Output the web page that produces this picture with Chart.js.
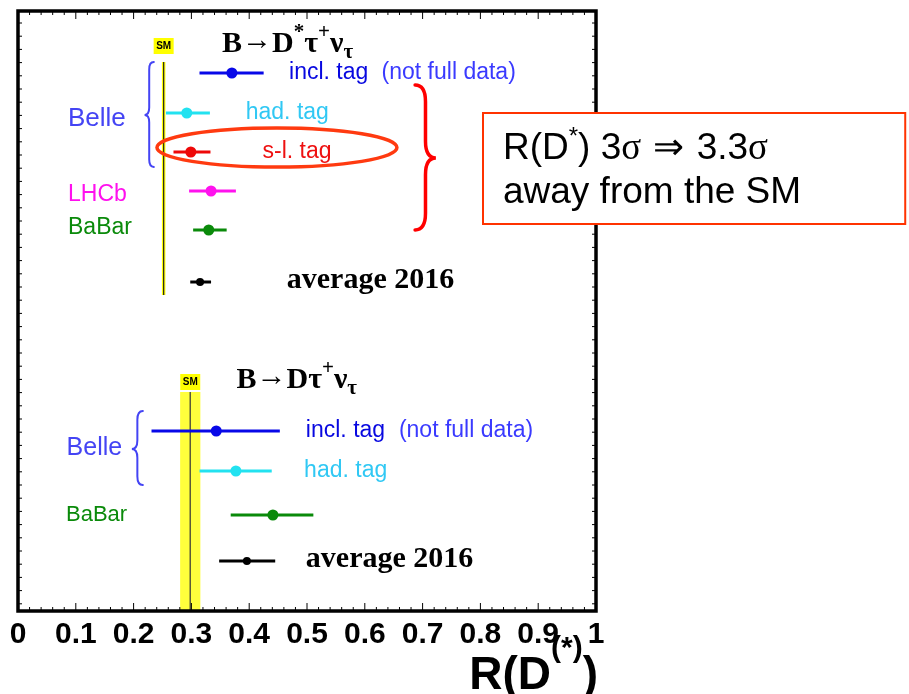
<!DOCTYPE html>
<html>
<head>
<meta charset="utf-8">
<script src="https://cdn.jsdelivr.net/npm/chart.js@4"></script>
<style>
  html, body { margin: 0; padding: 0; background: #fff; }
  #wrap { width: 909px; height: 694px; }
</style>
</head>
<body>
<div id="wrap"><canvas id="chart" width="909" height="694"></canvas></div>
<script>
// B -> D* tau nu (upper block)
const dstarNames = ["incl. tag", "had. tag", "s-l. tag", "LHCb", "BaBar", "average 2016"];
const dstarValues = [0.370, 0.292, 0.299, 0.334, 0.330, 0.315];
const dstarLow = [0.314, 0.256, 0.269, 0.296, 0.303, 0.298];
const dstarHigh = [0.425, 0.332, 0.333, 0.377, 0.361, 0.334];
const dstarRows = [3.1, 5.1, 7.05, 9.0, 10.95, 13.55];
const dstarColors = ["#0808e8", "#22e2f0", "#ee0808", "#ff12ee", "#0a8a0a", "#000000"];

// B -> D tau nu (lower block)
const dNames = ["incl. tag", "had. tag", "BaBar", "average 2016"];
const dValues = [0.343, 0.377, 0.441, 0.396];
const dLow = [0.231, 0.314, 0.368, 0.348];
const dHigh = [0.453, 0.439, 0.511, 0.445];
const dRows = [21.0, 23.0, 25.2, 27.5];
const dColors = ["#0808e8", "#22e2f0", "#0a8a0a", "#000000"];

// Standard Model predictions
const smDstar = 0.252, smDstarErr = 0.003;
const smD = 0.298, smDErr = 0.0175;

const xTickLabels = ["0", "0.1", "0.2", "0.3", "0.4", "0.5", "0.6", "0.7", "0.8", "0.9", "1"];

const SANS = "'Liberation Sans', Arial, Helvetica, sans-serif";
const SERIF = "'Liberation Serif', 'Times New Roman', serif";

function makeSets(names, vals, lo, hi, rows, cols) {
  return vals.map((v, i) => ({
    label: names[i],
    data: [{ x: v, y: rows[i] }],
    backgroundColor: cols[i],
    borderColor: cols[i],
    pointRadius: names[i] == "average 2016" ? 4 : 5.5,
    pointBorderWidth: 0,
    errLow: lo[i],
    errHigh: hi[i]
  }));
}

const datasets = makeSets(dstarNames, dstarValues, dstarLow, dstarHigh, dstarRows, dstarColors)
  .concat(makeSets(dNames, dValues, dLow, dHigh, dRows, dColors));

// draw a row of text pieces (sub/superscripts)
function textRun(ctx, x, y, parts) {
  let cx = x;
  for (const p of parts) {
    ctx.font = p.font;
    ctx.fillStyle = p.color || "#000";
    ctx.fillText(p.t, cx, y + (p.dy || 0));
    cx += ctx.measureText(p.t).width + (p.gap || 0);
  }
  return cx - x;
}

function runWidth(ctx, parts) {
  let w = 0;
  for (const p of parts) { ctx.font = p.font; w += ctx.measureText(p.t).width + (p.gap || 0); }
  return w;
}

// curly brace, ends at x0, point at xt
function brace(ctx, x0, xt, yTop, yTip, yBot, color, lw) {
  const xs = (x0 + xt) / 2;
  const r = Math.abs(x0 - xs) * 1.6;
  ctx.save();
  ctx.strokeStyle = color; ctx.lineWidth = lw; ctx.lineCap = "round";
  ctx.beginPath();
  ctx.moveTo(x0, yTop);
  ctx.quadraticCurveTo(xs, yTop, xs, yTop + r);
  ctx.lineTo(xs, yTip - r);
  ctx.quadraticCurveTo(xs, yTip, xt, yTip);
  ctx.quadraticCurveTo(xs, yTip, xs, yTip + r);
  ctx.lineTo(xs, yBot - r);
  ctx.quadraticCurveTo(xs, yBot, x0, yBot);
  ctx.stroke();
  ctx.restore();
}

const rootPlot = {
  id: "rootPlot",
  beforeDatasetsDraw(chart) {
    const ctx = chart.ctx, xs = chart.scales.x, ys = chart.scales.y;
    const X = v => xs.getPixelForValue(v), Y = v => ys.getPixelForValue(v);
    ctx.save();
    // SM for D*: thin yellow band with line
    ctx.fillStyle = "#ffff00";
    ctx.fillRect(X(smDstar - smDstarErr), Y(2.55), X(smDstar + smDstarErr) - X(smDstar - smDstarErr), Y(14.2) - Y(2.55));
    ctx.strokeStyle = "#222"; ctx.lineWidth = 1.2;
    ctx.beginPath(); ctx.moveTo(X(smDstar), Y(2.55)); ctx.lineTo(X(smDstar), Y(14.2)); ctx.stroke();
    // SM for D: wide band
    ctx.fillStyle = "#ffff3c";
    ctx.fillRect(X(smD - smDErr), Y(19.05), X(smD + smDErr) - X(smD - smDErr), Y(30) - Y(19.05));
    ctx.strokeStyle = "#5a5a3a"; ctx.lineWidth = 1.5;
    ctx.beginPath(); ctx.moveTo(X(smD), Y(19.05)); ctx.lineTo(X(smD), Y(30)); ctx.stroke();
    // SM labels
    const smBox = (v, r0, r1) => {
      ctx.fillStyle = "#ffff00";
      ctx.fillRect(X(v) - 10, Y(r0), 20, Y(r1) - Y(r0));
      ctx.fillStyle = "#000"; ctx.font = "bold 10px " + SANS;
      ctx.textAlign = "center"; ctx.textBaseline = "middle";
      ctx.fillText("SM", X(v), (Y(r0) + Y(r1)) / 2 + 0.5);
    };
    smBox(smDstar, 1.35, 2.15);
    smBox(smD, 18.15, 18.95);
    // error bars
    chart.data.datasets.forEach((ds, i) => {
      const pt = chart.getDatasetMeta(i).data[0];
      ctx.strokeStyle = ds.borderColor; ctx.lineWidth = 3;
      ctx.beginPath();
      ctx.moveTo(X(ds.errLow), pt.y); ctx.lineTo(X(ds.errHigh), pt.y);
      ctx.stroke();
    });
    ctx.restore();
  },
  afterDatasetsDraw(chart) {
    const ctx = chart.ctx, xs = chart.scales.x, ys = chart.scales.y, a = chart.chartArea;
    const X = v => xs.getPixelForValue(v), Y = v => ys.getPixelForValue(v);
    ctx.save();
    // frame ticks
    ctx.strokeStyle = "#000"; ctx.lineWidth = 1;
    ctx.beginPath();
    for (let k = 0; k <= 50; k++) {
      const px = X(k * 0.02), len = k % 5 == 0 ? 8 : 4;
      ctx.moveTo(px, a.top); ctx.lineTo(px, a.top + len);
      ctx.moveTo(px, a.bottom); ctx.lineTo(px, a.bottom - len);
    }
    for (let r = 0.6; r < 30; r += 0.66) {
      ctx.moveTo(a.left, Y(r)); ctx.lineTo(a.left + 4, Y(r));
      ctx.moveTo(a.right, Y(r)); ctx.lineTo(a.right - 4, Y(r));
    }
    ctx.stroke();
    ctx.lineWidth = 3.5;
    ctx.strokeRect(a.left, a.top, a.right - a.left, a.bottom - a.top);

    ctx.textAlign = "left";
    ctx.textBaseline = "middle";
    const label = (t, v, r, color, size) => {
      ctx.font = size + "px " + SANS; ctx.fillStyle = color;
      ctx.fillText(t, X(v), Y(r));
    };
    // upper block labels
    label("incl. tag", 0.469, 3.1, "#0808e0", 23);
    label("(not full data)", 0.629, 3.1, "#3a3aff", 23);
    label("had. tag", 0.394, 5.1, "#30c8f4", 23);
    label("s-l. tag", 0.423, 7.05, "#ee1010", 23);
    label("Belle", 0.0865, 5.4, "#4444f4", 26);
    label("LHCb", 0.0865, 9.2, "#ff10ee", 23);
    label("BaBar", 0.0865, 10.85, "#0a8a0a", 23);
    // lower block labels
    label("incl. tag", 0.498, 21.0, "#0808e0", 23);
    label("(not full data)", 0.659, 21.0, "#3a3aff", 23);
    label("had. tag", 0.495, 23.0, "#30c8f4", 23);
    label("Belle", 0.084, 21.85, "#4444f4", 25);
    label("BaBar", 0.083, 25.2, "#0a8a0a", 22);

    // titles
    ctx.textBaseline = "alphabetic";
    const big = "bold 30px " + SERIF, sm = "bold 21px " + SERIF, arr = "30px " + SERIF;
    textRun(ctx, X(0.353), Y(2.05), [
      { t: "B", font: big }, { t: "\u2192", font: arr, dy: -3 }, { t: "D", font: big },
      { t: "*", font: sm, dy: -14 },
      { t: "\u03c4", font: big }, { t: "+", font: sm, dy: -14 },
      { t: "\u03bd", font: big }, { t: "\u03c4", font: sm, dy: 6 }
    ]);
    textRun(ctx, X(0.378), Y(18.85), [
      { t: "B", font: big }, { t: "\u2192", font: arr, dy: -3 }, { t: "D\u03c4", font: big },
      { t: "+", font: sm, dy: -14 },
      { t: "\u03bd", font: big }, { t: "\u03c4", font: sm, dy: 6 }
    ]);
    ctx.font = big; ctx.fillStyle = "#000";
    ctx.fillText("average 2016", X(0.465), Y(13.85));
    ctx.fillText("average 2016", X(0.498), Y(27.8));

    // braces
    brace(ctx, X(0.235), X(0.219), Y(2.55), Y(5.2), Y(7.8), "#4444f4", 2);
    brace(ctx, X(0.216), X(0.197), Y(20.0), Y(21.9), Y(23.7), "#4444f4", 2);
    brace(ctx, X(0.687), X(0.723), Y(3.7), Y(7.35), Y(10.95), "#ff0000", 3.5);

    // ellipse round the s-l. tag point
    ctx.strokeStyle = "#ff3a10"; ctx.lineWidth = 3.5;
    ctx.beginPath();
    ctx.ellipse(X(0.448), Y(6.83), X(0.2076) - X(0), Y(0.975) - Y(0), 0, 0, 2 * Math.PI);
    ctx.stroke();

    // note box
    const bx0 = X(0.8045), bx1 = X(1.535), by0 = Y(5.1), by1 = Y(10.65);
    ctx.fillStyle = "#fff"; ctx.fillRect(bx0, by0, bx1 - bx0, by1 - by0);
    ctx.strokeStyle = "#ff3300"; ctx.lineWidth = 2;
    ctx.strokeRect(bx0, by0, bx1 - bx0, by1 - by0);
    const nf = "37px " + SANS, ns = "24px " + SANS, nsy = "37px " + SERIF;
    textRun(ctx, X(0.839), Y(7.4), [
      { t: "R(D", font: nf }, { t: "*", font: ns, dy: -15 }, { t: ") 3", font: nf },
      { t: "\u03c3", font: nsy, gap: 3 }, { t: " \u21d2 ", font: nsy, gap: 3 }, { t: "3.3", font: nf },
      { t: "\u03c3", font: nsy }
    ]);
    ctx.font = nf; ctx.fillStyle = "#000";
    ctx.fillText("away from the SM", X(0.839), Y(9.6));

    // axis title R(D^(*)), right aligned to the axis end
    const tparts = [
      { t: "R(D", font: "bold 46px " + SANS },
      { t: "(*)", font: "bold 30px " + SANS, dy: -32 },
      { t: ")", font: "bold 46px " + SANS }
    ];
    const tw = runWidth(ctx, tparts);
    textRun(ctx, X(1) - tw + 2, Y(33.9), tparts);
    ctx.restore();
  }
};

new Chart(document.getElementById("chart"), {
  type: "scatter",
  data: { datasets: datasets },
  plugins: [rootPlot],
  options: {
    responsive: false,
    animation: false,
    events: [],
    layout: { padding: { left: 18, right: 313, top: 11, bottom: 0 } },
    plugins: { legend: { display: false }, tooltip: { enabled: false } },
    scales: {
      x: {
        type: "linear", min: 0, max: 1, position: "bottom",
        grid: { display: false, drawTicks: false },
        border: { display: false },
        ticks: {
          stepSize: 0.1, padding: 6, color: "#000", autoSkip: false, maxRotation: 0,
          font: { family: SANS, size: 30, weight: "bold" },
          callback: (v, i) => xTickLabels[i]
        },
        afterFit: s => { s.height = 83; }
      },
      y: { type: "linear", min: 0, max: 30, reverse: true, display: false }
    }
  }
});
</script>
</body>
</html>
